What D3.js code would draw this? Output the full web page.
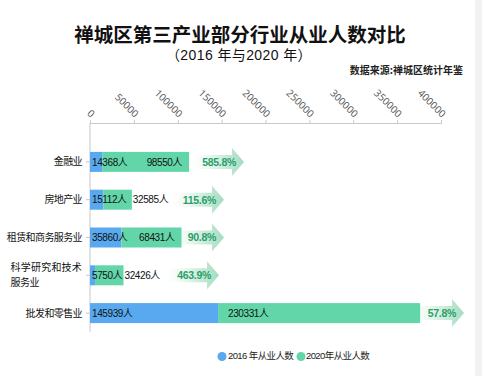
<!DOCTYPE html>
<html><head><meta charset="utf-8">
<script src="https://cdn.jsdelivr.net/npm/d3@7/dist/d3.min.js"></script>
<style>
html,body{margin:0;padding:0;background:#fff;}
svg{display:block;font-family:"Noto Sans CJK SC","Liberation Sans",sans-serif;}
</style></head>
<body><svg id="c" width="482" height="376"></svg>
<script>
const categories = ["金融业", "房地产业", "租赁和商务服务业", "科学研究和技术服务业", "批发和零售业"];
const categoryLines = [["金融业"], ["房地产业"], ["租赁和商务服务业"], ["科学研究和技术", "服务业"], ["批发和零售业"]];
const values2016 = [14368, 15112, 35860, 5750, 145939];
const values2020 = [98550, 32585, 68431, 32426, 230331];
const growthRate = [585.8, 115.6, 90.8, 463.9, 57.8];
const growthMarkerAt = [175500, 152700, 152700, 147000, 426200];
const xTicks = [0, 50000, 100000, 150000, 200000, 250000, 300000, 350000, 400000];
const seriesNames = ["2016 年从业人数", "2020年从业人数"];
const title = "禅城区第三产业部分行业从业人数对比";
const subtitle = "（2016 年与2020 年）";
const source = "数据来源:禅城区统计年鉴";

const blue = "#58a9f0", green = "#62d6a9";
const svg = d3.select("#c");
svg.append("rect").attr("x", 475).attr("y", 0).attr("width", 7).attr("height", 376).attr("fill", "#f2f2f2");

const latinFirst = "'Liberation Sans','Noto Sans CJK SC',sans-serif";
// titles
svg.append("text").attr("x", 240).attr("y", 41.5).attr("text-anchor", "middle")
  .attr("font-family", latinFirst)
  .attr("font-size", 19.5).attr("font-weight", "bold").attr("fill", "#111").text(title);
svg.append("text").attr("x", 239).attr("y", 59.5).attr("text-anchor", "middle")
  .attr("font-family", latinFirst)
  .attr("font-size", 14).attr("letter-spacing", "0.4").attr("fill", "#111").text(subtitle);
svg.append("text").attr("x", 463).attr("y", 73.5).attr("text-anchor", "end")
  .attr("font-size", 10).attr("font-weight", "bold").attr("fill", "#222").text(source);

const x = d3.scaleLinear().domain([0, 400000]).range([90, 441]);
const y = d3.scaleBand().domain(categories).range([143, 332]);
const barH = 20;

// x axis (top)
const xAxis = svg.append("g").attr("transform", "translate(0,123)")
  .call(d3.axisTop(x).tickValues(xTicks).tickSize(3).tickFormat(d3.format("d")));
xAxis.select(".domain").attr("stroke", "#c8c8c8");
xAxis.selectAll(".tick line").attr("stroke", "#c8c8c8");
xAxis.selectAll(".tick text")
  .attr("font-family", "'Open Sans','Liberation Sans',sans-serif")
  .attr("font-size", 10).attr("fill", "#555")
  .attr("text-anchor", "end").attr("dy", 0).attr("y", 0)
  .attr("transform", "translate(0,-5) rotate(45)");

// y axis
svg.append("line").attr("x1", 90).attr("x2", 90).attr("y1", 123).attr("y2", 332).attr("stroke", "#c8c8c8");
categories.forEach((c, i) => {
  const cy = y(c) + y.bandwidth() / 2;
  svg.append("line").attr("x1", 86).attr("x2", 90).attr("y1", cy).attr("y2", cy).attr("stroke", "#c8c8c8");
  const lines = categoryLines[i];
  const t = svg.append("text").attr("font-size", 10).attr("fill", "#111").attr("letter-spacing", "-0.6");
  if (lines.length === 1) {
    t.attr("x", 82).attr("y", cy + 3.5).attr("text-anchor", "end").text(lines[0]);
  } else {
    const t1 = t.attr("x", 82).attr("y", cy - 4.5).attr("text-anchor", "end").attr("letter-spacing", "0.2").text(lines[0]);
    const w = t1.node().getComputedTextLength();
    svg.append("text").attr("font-size", 10).attr("fill", "#111").attr("letter-spacing", "-0.6")
      .attr("x", 82 - w).attr("y", cy + 11).text(lines[1]);
  }
});

// gradient for arrows
const defs = svg.append("defs");
const grad = defs.append("linearGradient").attr("id", "ag").attr("x1", "0").attr("x2", "1").attr("y1", "0").attr("y2", "0");
grad.append("stop").attr("offset", "0%").attr("stop-color", "#ffffff").attr("stop-opacity", 0);
grad.append("stop").attr("offset", "45%").attr("stop-color", "#e4f5ec").attr("stop-opacity", 1);
grad.append("stop").attr("offset", "100%").attr("stop-color", "#a3dcc0").attr("stop-opacity", 1);

const valFont = latinFirst;
categories.forEach((c, i) => {
  const top = y(c) + (y.bandwidth() - barH) / 2;
  const cy = top + barH / 2;
  const x0 = x(0), x1 = x(values2016[i]), x2 = x(values2016[i] + values2020[i]);
  // arrow first (behind)
  const tip = x(growthMarkerAt[i]);
  const hs = tip - 12, start = tip - 58;
  const path = `M${start},${cy - 7}L${hs},${cy - 7}L${hs},${cy - 14}L${tip},${cy}L${hs},${cy + 14}L${hs},${cy + 7}L${start},${cy + 7}Z`;
  svg.append("path").attr("d", path).attr("fill", "url(#ag)");
  svg.append("text").attr("x", tip - 8).attr("y", cy + 3.8).attr("text-anchor", "end")
    .attr("font-family", valFont).attr("font-size", 10.5).attr("font-weight", "bold").attr("fill", "#2a9f6a")
    .attr("letter-spacing", "-0.3").text(growthRate[i].toFixed(1) + "%");

  svg.append("rect").attr("x", x0).attr("y", top).attr("width", x1 - x0).attr("height", barH).attr("fill", blue);
  svg.append("rect").attr("x", x1).attr("y", top).attr("width", x2 - x1).attr("height", barH).attr("fill", green);

  svg.append("text").attr("x", x0 + 2).attr("y", cy + 3.6)
    .attr("font-family", valFont).attr("font-size", 10).attr("fill", "#111").attr("letter-spacing", "-0.4")
    .text(values2016[i] + "人");
  const t2 = svg.append("text").attr("y", cy + 3.6)
    .attr("font-family", valFont).attr("font-size", 10).attr("fill", "#111").attr("letter-spacing", "-0.4")
    .text(values2020[i] + "人");
  const w = t2.node().getComputedTextLength();
  const gw = x2 - x1;
  let lx;
  if (gw < w + 10) lx = x2 + 1;
  else if (gw > 150) lx = x1 + 10;
  else lx = x2 - 7 - w;
  t2.attr("x", lx);
});

// legend
const leg = [[blue, 222, 228], [green, 301, 306]];
leg.forEach((l, i) => {
  svg.append("circle").attr("cx", l[1]).attr("cy", 356.5).attr("r", 4.5).attr("fill", l[0]);
  svg.append("text").attr("x", l[2]).attr("y", 358.5).attr("font-size", 9.5).attr("fill", "#222")
    .attr("font-family", valFont).attr("letter-spacing", "-0.6").text(seriesNames[i]);
});
</script></body></html>
